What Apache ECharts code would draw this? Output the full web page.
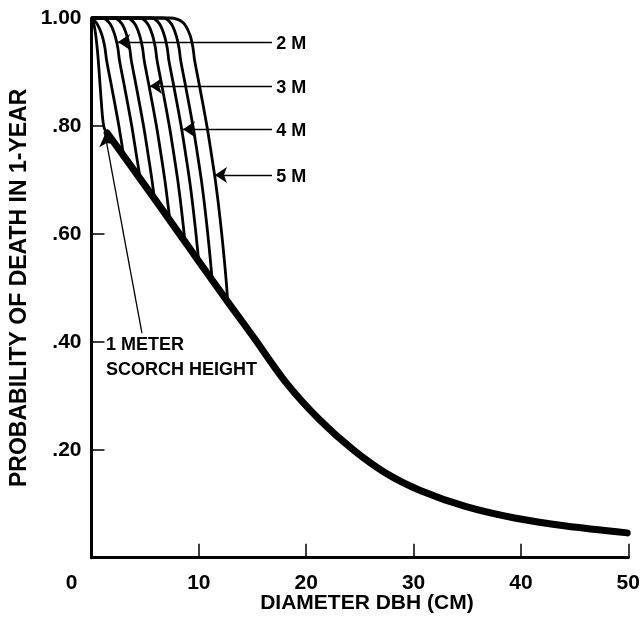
<!DOCTYPE html>
<html>
<head>
<meta charset="utf-8">
<script src="https://cdn.jsdelivr.net/npm/echarts@6/dist/echarts.min.js"></script>
<style>
html,body{margin:0;padding:0;background:#fff;}
#chart{width:643px;height:637px;}
</style>
</head>
<body>
<div id="chart"></div>
<script>
// ---- data ----
const xTicks = [0, 10, 20, 30, 40, 50];
const yTicks = [0, 0.2, 0.4, 0.6, 0.8, 1.0];
const yTickLabels = ['', '.20', '.40', '.60', '.80', '1.00'];

// thick envelope curve
const envelope = [[1.46,0.787],[6.41,0.650],[9.5,0.563],[12.91,0.468],[15.08,0.409],[18.18,0.323],[21.27,0.255],[24.37,0.200],[27.47,0.156],[30.56,0.125],[34.9,0.0945],[39.54,0.073],[44.19,0.0587],[49.9,0.046]];

// scorch-height curves (1 m to 5 m, half-metre steps)
const scorch1 = [[0,1],[0.2,0.99],[0.37,0.972],[0.55,0.94],[0.68,0.909],[0.8,0.875],[0.9,0.848],[1.05,0.812],[1.2,0.795],[1.46,0.787]];
const scorch15 = [[0,1],[0.5,0.99],[0.95,0.97],[1.25,0.945],[1.4,0.922],[1.9,0.87],[2.55,0.8],[2.99,0.745]];
const scorch2 = [[0,1],[1.0,1],[1.7,0.99],[2.15,0.97],[2.45,0.945],[2.6,0.922],[3.1,0.87],[3.75,0.8],[4.15,0.75],[4.55,0.701]];
const scorch25 = [[0,1],[2.1,1],[2.8,0.99],[3.25,0.97],[3.55,0.945],[3.7,0.922],[4.2,0.87],[4.85,0.8],[5.25,0.75],[5.63,0.70],[5.87,0.664]];
const scorch3 = [[0,1],[3.3,1],[4.0,0.99],[4.45,0.97],[4.75,0.945],[4.9,0.922],[5.4,0.87],[6.05,0.8],[6.45,0.75],[6.83,0.70],[7.15,0.65],[7.29,0.625]];
const scorch35 = [[0,1],[4.5,1],[5.2,0.99],[5.65,0.97],[5.95,0.945],[6.1,0.922],[6.6,0.87],[7.25,0.8],[7.65,0.75],[8.03,0.70],[8.35,0.65],[8.63,0.60],[8.71,0.585]];
const scorch4 = [[0,1],[5.6,1],[6.3,0.99],[6.75,0.97],[7.05,0.945],[7.2,0.922],[7.7,0.87],[8.35,0.8],[8.75,0.75],[9.13,0.70],[9.45,0.65],[9.73,0.60],[9.99,0.549]];
const scorch45 = [[0,1],[6.7,1],[7.4,0.99],[7.85,0.97],[8.15,0.945],[8.3,0.922],[8.8,0.87],[9.45,0.8],[9.85,0.75],[10.23,0.70],[10.55,0.65],[10.83,0.60],[11.08,0.55],[11.24,0.514]];
const scorch5 = [[0,1],[7.3,1],[8.5,0.992],[9.15,0.97],[9.45,0.945],[9.6,0.922],[10.1,0.87],[10.75,0.8],[11.15,0.75],[11.53,0.70],[11.85,0.65],[12.13,0.60],[12.38,0.55],[12.6,0.50],[12.68,0.474]];

// annotations (leader lines and their texts)
const arrowFrom = [[16.81,0.9555],[16.81,0.874],[16.81,0.794],[16.81,0.709],[4.70,0.416]];
const arrowTo   = [[2.47,0.9555],[5.45,0.874],[8.52,0.794],[11.5,0.709],[1.26,0.785]];
const noteText  = ['2 M','3 M','4 M','5 M','1 METER\nSCORCH HEIGHT'];
const notePos   = [[17.2,0.952],[17.2,0.870],[17.2,0.790],[17.2,0.706],[1.35,0.371]];

// ---- chart ----
const FONT = '"Liberation Sans", Arial, Helvetica, sans-serif';
const chart = echarts.init(document.getElementById('chart'), null, {renderer:'canvas'});

const thinCurves = [scorch1, scorch15, scorch2, scorch25, scorch3, scorch35, scorch4, scorch45, scorch5];
const series = thinCurves.map(d => ({
  type:'line', data:d, showSymbol:false, smooth:0.3, clip:false,
  lineStyle:{color:'#000', width:2.8}, z:3, silent:true
}));
series.push({
  type:'line', data:envelope, showSymbol:false, smooth:0.3, clip:false,
  lineStyle:{color:'#000', width:7, cap:'round'}, z:4, silent:true
});
series.push({
  type:'lines', coordinateSystem:'cartesian2d', silent:true, z:6,
  symbol:['none','arrow'], symbolSize:12,
  lineStyle:{color:'#000', width:1.3, opacity:1, curveness:0},
  data: arrowFrom.map((f,i)=>({coords:[f, arrowTo[i]]}))
});
series.push({
  type:'scatter', symbolSize:0, silent:true, z:5,
  data: notePos.map((p,i)=>({value:p, name:noteText[i]})),
  label:{show:true, position:'right', distance:0, formatter:p=>p.name, opacity:1,
    color:'#000', textBorderWidth:0, fontFamily:FONT, fontWeight:'bold', fontSize:18, lineHeight:25, align:'left'}
});

chart.setOption({
  backgroundColor:'#fff',
  animation:false,
  grid:{left:91.5, right:14.7, top:18, bottom:79.3, containLabel:false, outerBoundsMode:'none'},
  xAxis:{
    type:'value', min:0, max:50, interval:10,
    name:'DIAMETER DBH (CM)', nameLocation:'middle', nameGap:35, nameMoveOverlap:false,
    nameTextStyle:{color:'#000', fontFamily:FONT, fontWeight:'bold', fontSize:21, padding:[0,0,0,14]},
    axisLine:{show:true, lineStyle:{color:'#000', width:3}},
    axisTick:{show:true, inside:true, length:14, lineStyle:{color:'#000', width:1.5}},
    splitLine:{show:false},
    axisLabel:{color:'#000', fontFamily:FONT, fontWeight:'bold', fontSize:21, margin:15,
      formatter:v => v===0 ? '{o|0}' : String(v),
      rich:{o:{color:'#000', fontFamily:FONT, fontWeight:'bold', fontSize:21, padding:[0,40,0,0]}}}
  },
  yAxis:{
    type:'value', min:0, max:1, interval:0.2,
    name:'PROBABILITY OF DEATH IN 1-YEAR', nameLocation:'middle', nameGap:60, nameMoveOverlap:false,
    nameTextStyle:{color:'#000', fontFamily:FONT, fontWeight:'bold', fontSize:23},
    axisLine:{show:true, lineStyle:{color:'#000', width:3}},
    axisTick:{show:true, inside:true, length:13, lineStyle:{color:'#000', width:1.5}},
    splitLine:{show:false},
    axisLabel:{color:'#000', fontFamily:FONT, fontWeight:'bold', fontSize:21, margin:10,
      formatter:v => { const i = yTicks.findIndex(t=>Math.abs(t-v)<1e-6); return i>=0 ? yTickLabels[i] : ''; }}
  },
  series: series
});
</script>
</body>
</html>
